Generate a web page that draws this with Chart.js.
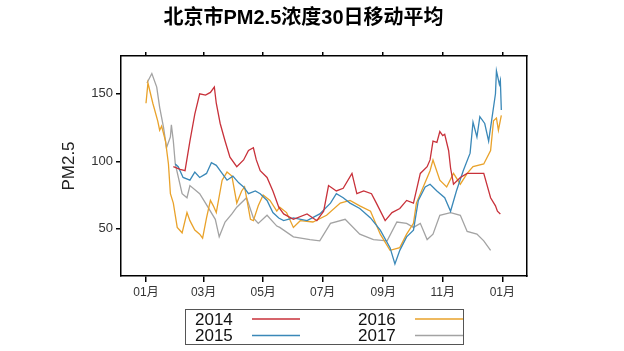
<!DOCTYPE html>
<html>
<head>
<meta charset="utf-8">
<script src="https://cdn.jsdelivr.net/npm/chart.js@4.4.1/dist/chart.umd.min.js"></script>
<style>
  html, body { margin: 0; padding: 0; background: #fff; }
  #wrap { width: 624px; height: 351px; }
</style>
</head>
<body>
<div id="wrap"><canvas id="pm" width="624" height="351"></canvas></div>
<script>
// 北京市PM2.5浓度 30日移动平均 — 按年份叠加 (x = 从1月1日起的天数)

const TITLE = "北京市PM2.5浓度30日移动平均";
const Y_TITLE = "PM2.5";

const TICK_DAYS = [0, 59, 120, 181, 243, 304, 365];
const TICK_LABELS = ["01月", "03月", "05月", "07月", "09月", "11月", "01月"];
const Y_TICKS = [50, 100, 150];

const DAYS_2014 = [28, 35, 40, 45, 50, 55, 61, 66, 70, 72, 76, 81, 86, 93, 100, 105, 110, 113, 117, 124, 130, 136, 141, 151, 165, 175, 182, 187, 195, 202, 211, 216, 223, 231, 236, 245, 252, 260, 267, 274, 281, 288, 291, 294, 298, 301, 304, 306, 310, 312, 315, 322, 329, 339, 346, 353, 358, 360, 363];
const PM_2014 = [96, 94, 93, 115, 135, 150, 149, 151, 155, 143, 128, 115, 103, 96, 101, 108, 110, 101, 93, 88, 78, 66, 61, 57, 61, 56, 63, 82, 78, 80, 91, 76, 78, 76, 69, 56, 62, 65, 71, 69, 91, 96, 101, 115, 114, 122, 119, 120, 108, 95, 83, 88, 91, 91, 91, 73, 67, 63, 61];

const DAYS_2015 = [30, 33, 38, 45, 50, 55, 62, 67, 72, 78, 83, 89, 95, 100, 105, 112, 117, 124, 130, 136, 141, 151, 165, 178, 189, 195, 202, 209, 219, 230, 240, 250, 255, 260, 267, 274, 279, 286, 291, 298, 306, 312, 318, 325, 332, 335, 339, 342, 347, 351, 354, 358, 359, 362, 363, 364];
const PM_2015 = [98, 96, 88, 86, 92, 88, 91, 99, 97, 91, 86, 89, 84, 81, 76, 78, 76, 71, 62, 58, 56, 58, 56, 61, 69, 76, 73, 69, 65, 58, 49, 36, 24, 34, 44, 49, 71, 81, 83, 78, 73, 63, 78, 93, 106, 129, 118, 133, 128, 115, 130, 150, 167, 157, 160, 138];

const DAYS_2016 = [0, 2, 7, 12, 14, 16, 20, 23, 25, 28, 32, 37, 42, 45, 50, 55, 58, 62, 66, 69, 72, 78, 83, 88, 93, 98, 101, 107, 110, 115, 120, 127, 134, 137, 144, 151, 158, 171, 185, 199, 209, 219, 230, 240, 250, 260, 267, 274, 277, 284, 291, 294, 301, 308, 315, 322, 329, 335, 346, 353, 356, 359, 361, 364];
const PM_2016 = [143, 158, 143, 130, 123, 126, 115, 98, 76, 69, 51, 47, 62, 56, 49, 46, 43, 58, 71, 67, 62, 86, 92, 89, 69, 78, 81, 57, 56, 67, 75, 71, 63, 66, 62, 51, 56, 55, 60, 69, 71, 67, 63, 46, 34, 36, 46, 54, 69, 81, 93, 101, 86, 81, 91, 83, 91, 96, 98, 108, 130, 132, 123, 134];

const DAYS_2017 = [1, 6, 11, 14, 18, 21, 25, 26, 28, 30, 37, 42, 45, 55, 61, 71, 75, 81, 88, 93, 103, 110, 115, 124, 134, 137, 151, 168, 178, 189, 204, 219, 233, 247, 257, 267, 274, 281, 288, 294, 301, 312, 322, 329, 339, 346, 353];
const PM_2017 = [158, 165, 155, 140, 125, 110, 118, 127, 115, 98, 76, 73, 82, 76, 69, 57, 44, 55, 61, 66, 73, 58, 54, 60, 52, 51, 44, 42, 41, 54, 57, 46, 42, 41, 55, 54, 51, 54, 42, 46, 60, 62, 60, 48, 46, 41, 34];

const SERIES = [
  { label: "2014", days: DAYS_2014, values: PM_2014, color: "#C8313A" },
  { label: "2015", days: DAYS_2015, values: PM_2015, color: "#3A88B8" },
  { label: "2016", days: DAYS_2016, values: PM_2016, color: "#E9A22A" },
  { label: "2017", days: DAYS_2017, values: PM_2017, color: "#A3A3A3" },
];

const FONT = "'Liberation Sans', Arial, 'Noto Sans CJK SC', sans-serif";
const BLACK = "#000";

// 图例: 带框, 2x2, 先文字后线段
const boxLegend = {
  id: "boxLegend",
  afterDraw(chart) {
    const { ctx, chartArea } = chart;
    const cx = (chartArea.left + chartArea.right) / 2;
    const w = 278, h = 35, top = 309;
    const left = Math.round(cx - w / 2);
    ctx.save();
    ctx.strokeStyle = "#555";
    ctx.lineWidth = 1;
    ctx.strokeRect(left + 0.5, top + 0.5, w, h);
    ctx.font = "17px " + FONT;
    ctx.textBaseline = "middle";
    ctx.fillStyle = "#111";
    chart.data.datasets.forEach((ds, i) => {
      const col = i < 2 ? 0 : 1;
      const row = i % 2;
      const x0 = left + 10 + col * 163;
      const y = top + 10 + row * 16.5;
      ctx.fillText(ds.label, x0, y + 1);
      ctx.strokeStyle = ds.borderColor;
      ctx.lineWidth = 1.3;
      ctx.beginPath();
      ctx.moveTo(x0 + 57, y);
      ctx.lineTo(x0 + 105, y);
      ctx.stroke();
    });
    ctx.restore();
  },
};

const xTicks = (s) => { s.ticks = TICK_DAYS.map((v) => ({ value: v })); };

new Chart(document.getElementById("pm"), {
  type: "line",
  data: {
    datasets: SERIES.map((s) => ({
      label: s.label,
      data: s.days.map((d, i) => ({ x: d, y: s.values[i] })),
      borderColor: s.color,
      backgroundColor: s.color,
      borderWidth: 1.3,
      pointRadius: 0,
      tension: 0,
      fill: false,
    })),
  },
  options: {
    responsive: false,
    animation: false,
    layout: { padding: { left: 0, right: 17, top: 0, bottom: 45 } },
    plugins: {
      legend: { display: false },
      tooltip: { enabled: false },
      title: {
        display: true,
        text: TITLE,
        color: BLACK,
        font: { family: "'Liberation Sans', 'Noto Sans CJK SC', sans-serif", size: 20, weight: "bold" },
        padding: { top: 6, bottom: 26 },
      },
    },
    scales: {
      x: {
        type: "linear",
        position: "bottom",
        min: -25.6,
        max: 390.3,
        afterBuildTicks: xTicks,
        afterFit: (s) => { s.height = 30; },
        ticks: {
          callback: (v, i) => TICK_LABELS[i],
          font: { family: FONT, size: 12 },
          color: "#333",
          padding: 3,
          maxRotation: 0,
          autoSkip: false,
        },
        grid: { drawOnChartArea: false, tickLength: 6, color: BLACK, lineWidth: 1.5 },
        border: { color: BLACK, width: 1.5 },
      },
      xTop: {
        type: "linear",
        position: "top",
        min: -25.6,
        max: 390.3,
        afterBuildTicks: xTicks,
        afterFit: (s) => { s.height = 0; },
        ticks: { display: false },
        grid: { drawOnChartArea: false, tickLength: 4, color: BLACK, lineWidth: 1.5 },
        border: { color: BLACK, width: 1.5 },
      },
      y: {
        type: "linear",
        position: "left",
        min: 15,
        max: 178,
        afterBuildTicks: (s) => { s.ticks = Y_TICKS.map((v) => ({ value: v })); },
        afterFit: (s) => { s.width = 121; },
        ticks: { font: { family: FONT, size: 13 }, color: "#333", padding: 3 },
        grid: { drawOnChartArea: false, tickLength: 5, color: BLACK, lineWidth: 1.5 },
        border: { color: BLACK, width: 1.5 },
        title: {
          display: true,
          text: Y_TITLE,
          color: "#222",
          font: { family: FONT, size: 17 },
          padding: { top: 59, bottom: 0 },
        },
      },
      yRight: {
        type: "linear",
        position: "right",
        min: 15,
        max: 178,
        afterFit: (s) => { s.width = 80; },
        ticks: { display: false },
        grid: { display: false },
        border: { display: true, color: BLACK, width: 1.5 },
      },
    },
  },
  plugins: [boxLegend],
});
</script>
</body>
</html>
